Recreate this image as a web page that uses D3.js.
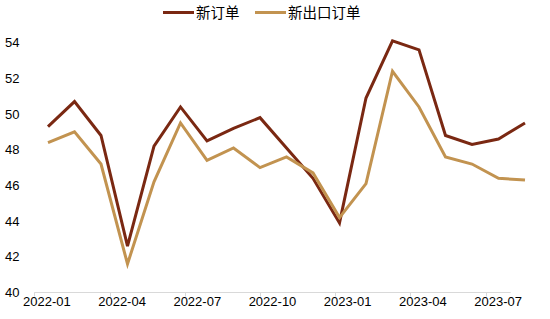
<!DOCTYPE html>
<html>
  <head>
    <meta charset="utf-8">
    <script src="https://d3js.org/d3.v7.min.js"></script>
    <style>
      body { margin: 0; background: #fff; }
      text { font-family: "Liberation Sans", Arial, sans-serif; fill: #000; }
      .legend text { font-family: "Noto Sans CJK SC", sans-serif; }
    </style>
  </head>
  <body>
    <script>
      var width = 550;
      var height = 319;

      var months = ["2022-01","2022-02","2022-03","2022-04","2022-05","2022-06","2022-07","2022-08","2022-09","2022-10","2022-11","2022-12",
                    "2023-01","2023-02","2023-03","2023-04","2023-05","2023-06","2023-07"];
      var newOrders = [49.3,50.7,48.8,42.6,48.2,50.4,48.5,49.2,49.8,48.1,46.4,43.9,50.9,54.1,53.6,48.8,48.3,48.6,49.5];
      var exportOrders = [48.4,49.0,47.2,41.6,46.2,49.5,47.4,48.1,47.0,47.6,46.7,44.2,46.1,52.4,50.4,47.6,47.2,46.4,46.3];
      var seriesNames = ["新订单","新出口订单"];
      var colors = ["#7a2812","#c29350"];
      var yTicks = [40,42,44,46,48,50,52,54];
      var xLabels = ["2022-01","2022-04","2022-07","2022-10","2023-01","2023-04","2023-07"];

      var svg = d3.select("body")
        .append("svg")
        .attr("width", width)
        .attr("height", height);

      var yScale = d3.scaleLinear()
        .domain([40, 54])
        .range([292.5, 42.7]);

      // lines
      var xLine = d3.scalePoint()
        .domain(months)
        .range([48, 525]);

      // axis labels sit on a band axis
      var xBand = d3.scaleBand()
        .domain(months)
        .range([34.3, 510.7]);

      svg.append("line")
        .attr("x1", xBand.range()[0])
        .attr("x2", xBand.range()[1])
        .attr("y1", yScale(40))
        .attr("y2", yScale(40))
        .attr("stroke", "#d9d9d9")
        .attr("stroke-width", 1);

      svg.selectAll(".xtick")
        .data(xLabels)
        .enter()
        .append("line")
        .attr("class", "xtick")
        .attr("x1", function(d) { return Math.round(xBand(d)) + 0.5; })
        .attr("x2", function(d) { return Math.round(xBand(d)) + 0.5; })
        .attr("y1", yScale(40))
        .attr("y2", yScale(40) + 4)
        .attr("stroke", "#d9d9d9");

      svg.selectAll(".xlabel")
        .data(xLabels)
        .enter()
        .append("text")
        .attr("class", "xlabel")
        .attr("x", function(d) { return xBand(d) + xBand.bandwidth() / 2; })
        .attr("y", 306)
        .attr("text-anchor", "middle")
        .style("font-size", "13px")
        .text(function(d) { return d; });

      svg.selectAll(".ylabel")
        .data(yTicks)
        .enter()
        .append("text")
        .attr("class", "ylabel")
        .attr("x", 19.5)
        .attr("y", function(d) { return yScale(d); })
        .attr("dy", "0.35em")
        .attr("text-anchor", "end")
        .style("font-size", "13px")
        .text(function(d) { return d; });

      var line = d3.line()
        .x(function(d, i) { return xLine(months[i]); })
        .y(function(d) { return yScale(d); });

      [newOrders, exportOrders].forEach(function(values, k) {
        svg.append("path")
          .datum(values)
          .attr("d", line)
          .attr("fill", "none")
          .attr("stroke", colors[k])
          .attr("stroke-width", 3)
          .attr("stroke-linejoin", "miter");
      });

      // legend
      var legend = svg.append("g").attr("class", "legend");
      var legendX = [163, 255];
      seriesNames.forEach(function(name, k) {
        legend.append("line")
          .attr("x1", legendX[k])
          .attr("x2", legendX[k] + 31)
          .attr("y1", 12.5)
          .attr("y2", 12.5)
          .attr("stroke", colors[k])
          .attr("stroke-width", 3);
        legend.append("text")
          .attr("x", legendX[k] + 33)
          .attr("y", 12.5)
          .attr("dy", "0.35em")
          .style("font-size", "14.5px")
          .text(name);
      });
    </script>
  </body>
</html>
